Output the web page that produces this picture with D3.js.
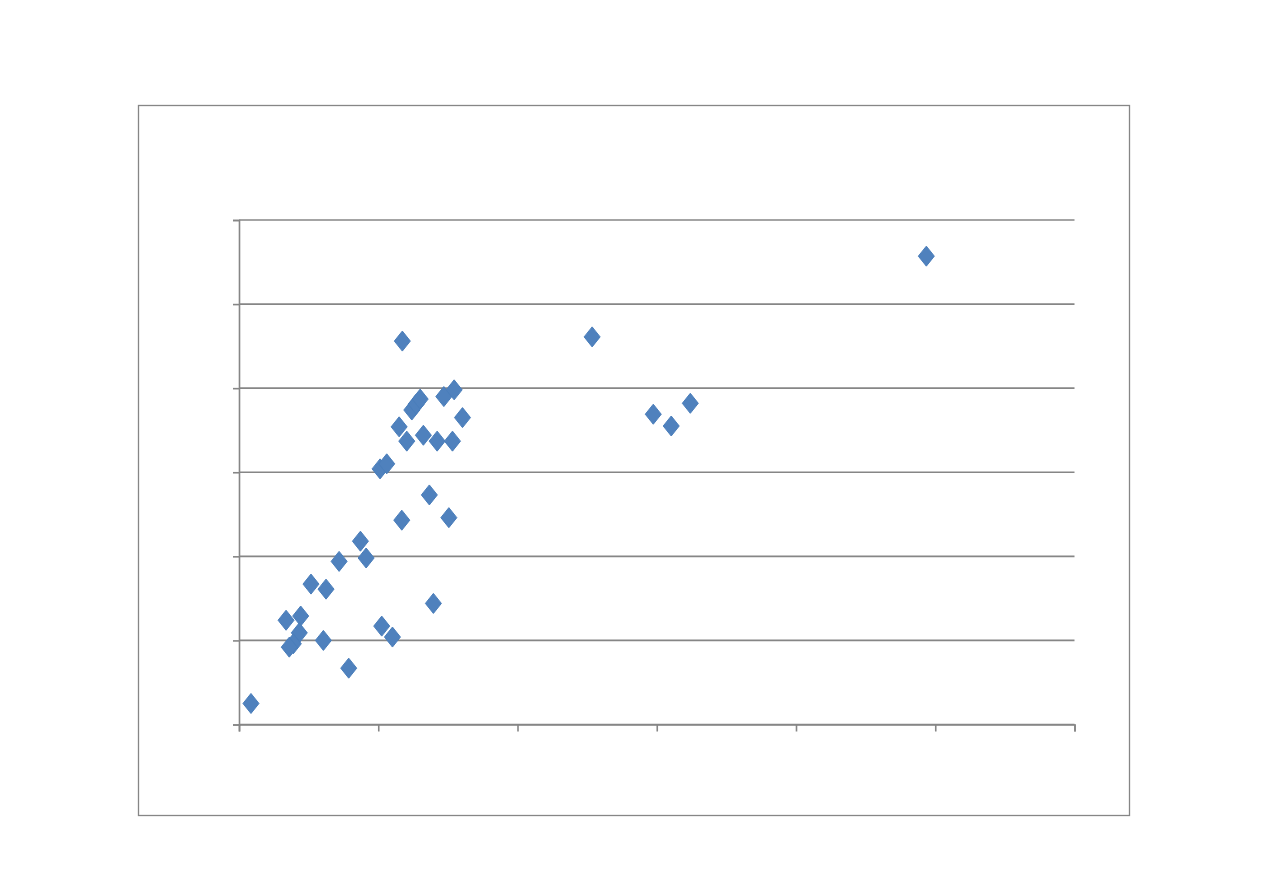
<!DOCTYPE html>
<html>
<head>
<meta charset="utf-8">
<script src="https://cdn.jsdelivr.net/npm/d3@7"></script>
<style>
  body { margin: 0; background: #fff; }
  svg { display: block; }
</style>
</head>
<body>
<svg id="chart"></svg>
<script>
// scatter data (x, y)
const xValues = [0.086, 0.338, 0.443, 0.433, 0.390, 0.361, 0.517, 0.625, 0.606, 0.719,
  0.788, 0.872, 0.913, 1.025, 1.102, 1.013, 1.061, 1.169, 1.150, 1.205,
  1.173, 1.241, 1.272, 1.301, 1.324, 1.367, 1.396, 1.423, 1.471, 1.507,
  1.533, 1.545, 1.605, 2.536, 2.975, 3.104, 3.241, 4.936];
const yValues = [0.25, 1.24, 1.29, 1.09, 0.96, 0.92, 1.67, 1.61, 1.00, 1.94,
  0.67, 2.18, 1.98, 1.17, 1.04, 3.04, 3.10, 2.43, 3.54, 3.37,
  4.56, 3.74, 3.81, 3.87, 3.44, 2.73, 1.44, 3.37, 3.90, 2.46,
  3.37, 3.98, 3.65, 4.61, 3.69, 3.55, 3.82, 5.57];
const xTicks = [0, 1, 2, 3, 4, 5, 6];
const yTicks = [0, 1, 2, 3, 4, 5, 6];

const width = 1263, height = 893;
const frame = { x: 138, y: 105, w: 991, h: 710 };
const plot = { left: 239, top: 220, right: 1074.5, bottom: 724.5 };
const lineColor = "#868686";

const svg = d3.select("#chart").attr("width", width).attr("height", height);

// outer chart frame
svg.append("rect")
  .attr("x", frame.x + 0.5).attr("y", frame.y + 0.5)
  .attr("width", frame.w).attr("height", frame.h)
  .attr("fill", "#fff")
  .attr("stroke", lineColor)
  .attr("stroke-width", 1.3);

const x = d3.scaleLinear().domain([0, 6]).range([plot.left, plot.right]);
const y = d3.scaleLinear().domain([0, 6]).range([plot.bottom, plot.top]);

// horizontal gridlines
svg.append("g")
  .selectAll("line")
  .data(yTicks)
  .join("line")
  .attr("x1", plot.left).attr("x2", plot.right)
  .attr("y1", d => y(d)).attr("y2", d => y(d))
  .attr("stroke", lineColor)
  .attr("stroke-width", 1.6);

// y axis, no labels
const yAxis = svg.append("g")
  .attr("transform", `translate(${plot.left},0)`)
  .call(d3.axisLeft(y).tickValues(yTicks).tickSize(6).tickFormat(""));
// x axis, no labels
const xAxis = svg.append("g")
  .attr("transform", `translate(0,${plot.bottom})`)
  .call(d3.axisBottom(x).tickValues(xTicks).tickSize(7).tickFormat(""));

[xAxis, yAxis].forEach(a => {
  a.select(".domain").attr("stroke", lineColor).attr("stroke-width", 1.6);
  a.selectAll(".tick line").attr("stroke", lineColor).attr("stroke-width", 1.6);
});

// diamond markers
const points = xValues.map((v, i) => ({ x: v, y: yValues[i] }));
const hw = 8, hh = 10;
svg.append("g")
  .selectAll("path")
  .data(points)
  .join("path")
  .attr("d", d => {
    const cx = x(d.x), cy = y(d.y);
    return `M${cx},${cy - hh}L${cx + hw},${cy}L${cx},${cy + hh}L${cx - hw},${cy}Z`;
  })
  .attr("fill", "#4F81BD")
  .attr("stroke", "#4A7EBB")
  .attr("stroke-width", 1)
  .attr("stroke-linejoin", "round");
</script>
</body>
</html>
